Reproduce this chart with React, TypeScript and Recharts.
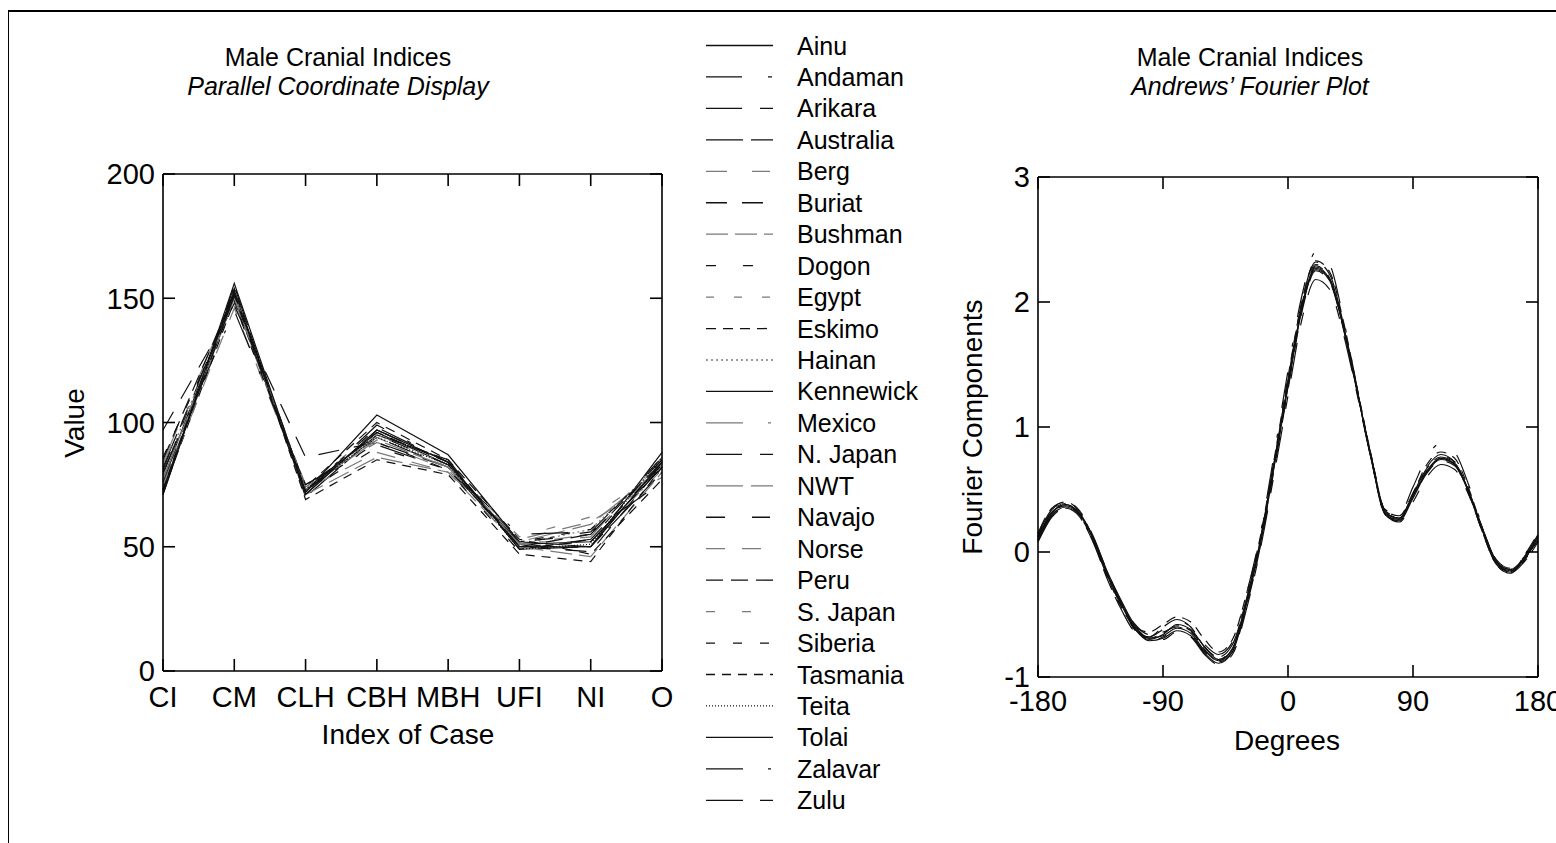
import { LineChart, Line, XAxis, YAxis } from "recharts";

// ---- data -------------------------------------------------------------

const POPULATIONS = [
  "Ainu", "Andaman", "Arikara", "Australia", "Berg", "Buriat", "Bushman",
  "Dogon", "Egypt", "Eskimo", "Hainan", "Kennewick", "Mexico", "N. Japan",
  "NWT", "Navajo", "Norse", "Peru", "S. Japan", "Siberia", "Tasmania",
  "Teita", "Tolai", "Zalavar", "Zulu",
];

const INDICES = ["CI", "CM", "CLH", "CBH", "MBH", "UFI", "NI", "O"];

// one row per population, one value per index (same order as INDICES)
const PARALLEL_VALUES = [
  [77, 152, 73, 96, 83, 51, 52, 82],
  [82, 150, 72, 99, 84, 52, 56, 85],
  [79, 153, 73, 94, 82, 50, 50, 84],
  [71, 155, 70, 95, 85, 49, 50, 80],
  [83, 148, 75, 92, 81, 51, 55, 83],
  [97, 147, 86, 92, 82, 50, 48, 83],
  [75, 150, 71, 86, 80, 50, 46, 80],
  [73, 151, 72, 90, 81, 48, 53, 85],
  [74, 150, 74, 97, 84, 52, 52, 81],
  [72, 149, 74, 100, 85, 53, 47, 77],
  [80, 151, 73, 95, 83, 51, 57, 84],
  [73, 153, 71, 97, 84, 50, 50, 88],
  [84, 152, 74, 94, 82, 51, 54, 86],
  [76, 151, 72, 98, 84, 50, 52, 82],
  [77, 150, 73, 93, 82, 52, 59, 82],
  [81, 152, 74, 95, 83, 52, 55, 86],
  [74, 146, 73, 88, 80, 53, 60, 78],
  [85, 152, 72, 96, 84, 50, 55, 84],
  [78, 150, 74, 93, 82, 54, 62, 81],
  [86, 148, 73, 92, 81, 52, 57, 83],
  [73, 154, 69, 85, 79, 47, 44, 82],
  [72, 152, 73, 94, 83, 49, 51, 86],
  [71, 156, 72, 103, 87, 52, 50, 84],
  [80, 145, 75, 91, 81, 55, 56, 76],
  [73, 151, 71, 97, 84, 49, 53, 83],
];

const DEGREES = [
  -180, -170, -160, -150, -140, -130, -120, -110, -100, -90, -80, -70, -60,
  -50, -40, -30, -20, -10, 0, 10, 20, 30, 40, 50, 60, 70, 80, 90, 100, 110,
  120, 130, 140, 150, 160, 170, 180,
];

// Andrews curves, one value per entry of DEGREES
const ANDREWS_AINU = [
  0.12, 0.32, 0.38, 0.3, 0.1, -0.18, -0.42, -0.62, -0.7, -0.66, -0.58, -0.62,
  -0.76, -0.86, -0.78, -0.4, 0.08, 0.7, 1.35, 1.95, 2.28, 2.18, 1.8, 1.28,
  0.75, 0.32, 0.27, 0.45, 0.65, 0.75, 0.7, 0.48, 0.18, -0.08, -0.15, -0.06, 0.12,
];
const ANDREWS_ANDAMAN = [
  0.1, 0.3, 0.36, 0.29, 0.08, -0.2, -0.44, -0.62, -0.68, -0.62, -0.55, -0.6,
  -0.74, -0.82, -0.72, -0.34, 0.14, 0.78, 1.45, 2.05, 2.4, 2.3, 1.86, 1.3,
  0.76, 0.34, 0.3, 0.52, 0.76, 0.87, 0.8, 0.54, 0.2, -0.08, -0.16, -0.06, 0.1,
];
const ANDREWS_ARIKARA = [
  0.14, 0.34, 0.4, 0.33, 0.12, -0.16, -0.4, -0.6, -0.7, -0.7, -0.64, -0.68,
  -0.82, -0.9, -0.82, -0.46, 0.02, 0.62, 1.25, 1.86, 2.18, 2.1, 1.74, 1.25,
  0.74, 0.3, 0.24, 0.4, 0.6, 0.7, 0.66, 0.46, 0.17, -0.08, -0.14, -0.04, 0.14,
];
const ANDREWS_AUSTRALIA = [
  0.08, 0.28, 0.35, 0.28, 0.07, -0.22, -0.46, -0.64, -0.68, -0.6, -0.54, -0.6,
  -0.76, -0.84, -0.74, -0.38, 0.1, 0.72, 1.38, 2.0, 2.32, 2.22, 1.82, 1.28,
  0.74, 0.3, 0.26, 0.46, 0.68, 0.78, 0.72, 0.48, 0.16, -0.1, -0.17, -0.08, 0.08,
];
const ANDREWS_BURIAT = [
  0.12, 0.31, 0.37, 0.31, 0.11, -0.17, -0.4, -0.58, -0.66, -0.64, -0.6, -0.66,
  -0.8, -0.88, -0.8, -0.44, 0.04, 0.66, 1.3, 1.92, 2.25, 2.16, 1.78, 1.27,
  0.76, 0.33, 0.28, 0.44, 0.63, 0.73, 0.69, 0.47, 0.18, -0.06, -0.13, -0.04, 0.12,
];
const ANDREWS_DOGON = [
  0.11, 0.33, 0.39, 0.31, 0.09, -0.19, -0.43, -0.63, -0.72, -0.68, -0.62, -0.64,
  -0.77, -0.86, -0.76, -0.38, 0.1, 0.72, 1.36, 1.98, 2.3, 2.2, 1.8, 1.27,
  0.74, 0.31, 0.26, 0.45, 0.66, 0.77, 0.72, 0.5, 0.19, -0.07, -0.15, -0.07, 0.11,
];
const ANDREWS_ESKIMO = [
  0.13, 0.32, 0.37, 0.29, 0.08, -0.2, -0.44, -0.6, -0.64, -0.58, -0.52, -0.56,
  -0.7, -0.8, -0.7, -0.34, 0.12, 0.74, 1.4, 2.0, 2.33, 2.24, 1.84, 1.3,
  0.77, 0.33, 0.27, 0.47, 0.7, 0.8, 0.75, 0.51, 0.19, -0.08, -0.16, -0.06, 0.13,
];
const ANDREWS_KENNEWICK = [
  0.09, 0.29, 0.36, 0.3, 0.1, -0.18, -0.41, -0.61, -0.71, -0.69, -0.63, -0.67,
  -0.81, -0.89, -0.8, -0.42, 0.06, 0.68, 1.32, 1.94, 2.26, 2.17, 1.79, 1.28,
  0.75, 0.3, 0.25, 0.43, 0.64, 0.74, 0.7, 0.49, 0.18, -0.09, -0.16, -0.05, 0.09,
];
const ANDREWS_PERU = [
  0.15, 0.35, 0.4, 0.32, 0.1, -0.19, -0.43, -0.62, -0.69, -0.65, -0.59, -0.63,
  -0.78, -0.87, -0.78, -0.41, 0.07, 0.69, 1.33, 1.96, 2.29, 2.19, 1.8, 1.29,
  0.76, 0.33, 0.29, 0.47, 0.67, 0.76, 0.71, 0.47, 0.16, -0.1, -0.17, -0.03, 0.15,
];
const ANDREWS_TOLAI = [
  0.1, 0.31, 0.38, 0.31, 0.11, -0.16, -0.39, -0.59, -0.69, -0.67, -0.61, -0.65,
  -0.79, -0.87, -0.77, -0.39, 0.09, 0.71, 1.34, 1.96, 2.27, 2.18, 1.79, 1.27,
  0.74, 0.31, 0.27, 0.45, 0.64, 0.75, 0.71, 0.49, 0.19, -0.07, -0.14, -0.05, 0.1,
];

const ANDREWS_CURVES = [
  { name: "Ainu", values: ANDREWS_AINU },
  { name: "Andaman", values: ANDREWS_ANDAMAN },
  { name: "Arikara", values: ANDREWS_ARIKARA },
  { name: "Australia", values: ANDREWS_AUSTRALIA },
  { name: "Buriat", values: ANDREWS_BURIAT },
  { name: "Dogon", values: ANDREWS_DOGON },
  { name: "Eskimo", values: ANDREWS_ESKIMO },
  { name: "Kennewick", values: ANDREWS_KENNEWICK },
  { name: "Peru", values: ANDREWS_PERU },
  { name: "Tolai", values: ANDREWS_TOLAI },
];

const VALUE_TICKS = [0, 50, 100, 150, 200];
const DEGREE_TICKS = [-180, -90, 0, 90, 180];
const FOURIER_TICKS = [-1, 0, 1, 2, 3];

// ---- styles -------------------------------------------------------------

const DASHES: Record<string, string> = {
  Ainu: "", Andaman: "36 26 4 26", Arikara: "36 18 13 18",
  Australia: "37 8 22 8", Berg: "21 25 18 25", Buriat: "21 15",
  Bushman: "22 7", Dogon: "10 27", Egypt: "8 20", Eskimo: "10 7",
  Hainan: "2 3", Kennewick: "", Mexico: "37 25 3 25",
  "N. Japan": "36 18 13 18", NWT: "37 8 22 8", Navajo: "19 27 18 27",
  Norse: "19 17", Peru: "17 8", "S. Japan": "9 27", Siberia: "9 18",
  Tasmania: "9 7", Teita: "1 2", Tolai: "", Zalavar: "37 25 3 25",
  Zulu: "37 17 13 17",
};

const LIGHT = new Set(["Berg", "Bushman", "Egypt", "Hainan", "Mexico", "NWT", "Norse", "S. Japan"]);
const strokeOf = (p: string) => (LIGHT.has(p) ? "#7a7a7a" : "#111");

const FONT = "'Liberation Sans', Arial, Helvetica, sans-serif";
const AXIS = { stroke: "#000", strokeWidth: 1.6 };
const TICK = { fontSize: 29, fill: "#000" };

// tick marks only, no label (top and right sides of the frames)
const NoLabel = () => <g />;

// ---- derived tables -----------------------------------------------------

const parallelRows = INDICES.map((idx, i) => {
  const row: Record<string, number | string> = { idx };
  POPULATIONS.forEach((p, j) => {
    row[p] = PARALLEL_VALUES[j][i];
  });
  return row;
});

const andrewsRows = DEGREES.map((deg, i) => {
  const row: Record<string, number> = { deg };
  ANDREWS_CURVES.forEach((c) => {
    row[c.name] = c.values[i];
  });
  return row;
});

function Text({ x, y, w, size, children, italic, rotate }: any) {
  return (
    <div
      style={{
        position: "absolute",
        left: x - w / 2,
        top: y - size / 2,
        width: w,
        height: size,
        lineHeight: `${size}px`,
        fontSize: size,
        textAlign: "center",
        fontStyle: italic ? "italic" : "normal",
        transform: rotate ? "rotate(-90deg)" : undefined,
        whiteSpace: "nowrap",
      }}
    >
      {children}
    </div>
  );
}

function LegendPanel() {
  return (
    <svg
      width={250}
      height={820}
      style={{ position: "absolute", left: 690, top: 0 }}
    >
      {POPULATIONS.map((p, i) => {
        const y = 45.5 + i * 31.45;
        return (
          <g key={p}>
            <line
              x1={16}
              x2={83}
              y1={y}
              y2={y}
              stroke={strokeOf(p)}
              strokeWidth={1.3}
              strokeDasharray={DASHES[p] || undefined}
            />
            <text x={107} y={y + 9} fontSize={25} fill="#000">
              {p}
            </text>
          </g>
        );
      })}
    </svg>
  );
}

// the series are split over the bottom/left and top/right axis pairs (same
// domains) so that all four sides of each plot frame get drawn with ticks
export default function App() {
  return (
    <div
      style={{
        position: "absolute",
        left: 0,
        top: 0,
        width: 1556,
        height: 843,
        overflow: "hidden",
        background: "#fff",
        fontFamily: FONT,
        color: "#000",
      }}
    >
      {/* outer frame */}
      <div
        style={{
          position: "absolute",
          left: 8,
          top: 10,
          width: 1560,
          height: 840,
          borderTop: "2px solid #000",
          borderLeft: "1.5px solid #000",
        }}
      />

      {/* titles */}
      <Text x={338} y={57} w={400} size={25}>Male Cranial Indices</Text>
      <Text x={338} y={86} w={400} size={25} italic>Parallel Coordinate Display</Text>
      <Text x={1250} y={57} w={400} size={25}>Male Cranial Indices</Text>
      <Text x={1250} y={86} w={400} size={25} italic>Andrews’ Fourier Plot</Text>

      {/* axis titles */}
      <Text x={75} y={423} w={300} size={28} rotate>Value</Text>
      <Text x={408} y={735} w={300} size={28}>Index of Case</Text>
      <Text x={973} y={427} w={400} size={28} rotate>Fourier Components</Text>
      <Text x={1287} y={741} w={300} size={28}>Degrees</Text>

      {/* parallel coordinates */}
      <div style={{ position: "absolute", left: 0, top: 0 }}>
        <LineChart
          width={700}
          height={843}
          data={parallelRows}
          margin={{ top: 173, right: 37, left: 63, bottom: 102 }}
          style={{ fontFamily: FONT }}
        >
          <XAxis
            dataKey="idx"
            height={70}
            interval={0}
            tickSize={-12}
            tickMargin={27}
            tick={TICK}
            axisLine={AXIS}
            tickLine={AXIS}
          />
          <XAxis
            xAxisId="top"
            dataKey="idx"
            orientation="top"
            height={1}
            interval={0}
            tick={NoLabel}
            tickSize={-12}
            axisLine={AXIS}
            tickLine={AXIS}
          />
          <YAxis
            domain={[0, 200]}
            ticks={VALUE_TICKS}
            width={100}
            tickSize={-12}
            tickMargin={20}
            tick={TICK}
            axisLine={AXIS}
            tickLine={AXIS}
          />
          <YAxis
            yAxisId="right"
            orientation="right"
            domain={[0, 200]}
            ticks={VALUE_TICKS}
            width={1}
            tick={NoLabel}
            tickSize={-12}
            axisLine={AXIS}
            tickLine={AXIS}
          />
          {POPULATIONS.map((p, i) => (
            <Line
              key={p}
              xAxisId={i % 2 ? "top" : 0}
              yAxisId={i % 2 ? "right" : 0}
              type="linear"
              dataKey={p}
              stroke={strokeOf(p)}
              strokeWidth={1.2}
              strokeDasharray={DASHES[p] || undefined}
              dot={false}
              isAnimationActive={false}
            />
          ))}
        </LineChart>
      </div>

      <LegendPanel />

      {/* Andrews plot */}
      <div style={{ position: "absolute", left: 900, top: 0 }}>
        <LineChart
          width={656}
          height={843}
          data={andrewsRows}
          margin={{ top: 176, right: 17, left: 38, bottom: 96 }}
          style={{ fontFamily: FONT }}
        >
          <XAxis
            dataKey="deg"
            type="number"
            domain={[-180, 180]}
            ticks={DEGREE_TICKS}
            height={70}
            interval={0}
            tickSize={-12}
            tickMargin={25}
            tick={TICK}
            axisLine={AXIS}
            tickLine={AXIS}
          />
          <XAxis
            xAxisId="top"
            dataKey="deg"
            type="number"
            orientation="top"
            domain={[-180, 180]}
            ticks={DEGREE_TICKS}
            height={1}
            tick={NoLabel}
            tickSize={-12}
            axisLine={AXIS}
            tickLine={AXIS}
          />
          <YAxis
            domain={[-1, 3]}
            ticks={FOURIER_TICKS}
            width={100}
            tickSize={-12}
            tickMargin={20}
            tick={TICK}
            axisLine={AXIS}
            tickLine={AXIS}
          />
          <YAxis
            yAxisId="right"
            orientation="right"
            domain={[-1, 3]}
            ticks={FOURIER_TICKS}
            width={1}
            tick={NoLabel}
            tickSize={-12}
            axisLine={AXIS}
            tickLine={AXIS}
          />
          {ANDREWS_CURVES.map((c, i) => (
            <Line
              key={c.name}
              xAxisId={i % 2 ? "top" : 0}
              yAxisId={i % 2 ? "right" : 0}
              type="monotone"
              dataKey={c.name}
              stroke={strokeOf(c.name)}
              strokeWidth={1.2}
              strokeDasharray={DASHES[c.name] || undefined}
              dot={false}
              isAnimationActive={false}
            />
          ))}
        </LineChart>
      </div>
    </div>
  );
}
